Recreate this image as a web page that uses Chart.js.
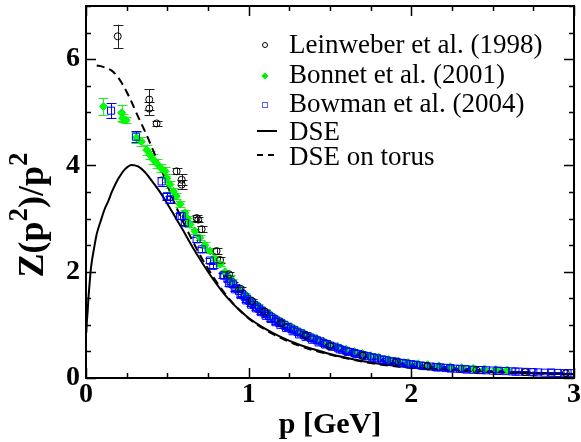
<!DOCTYPE html>
<html><head><meta charset="utf-8">
<script src="https://cdn.jsdelivr.net/npm/chart.js@4.4.0/dist/chart.umd.min.js"></script>
<style>html,body{margin:0;padding:0;background:#fff}#wrap{width:581px;height:442px;position:relative}</style>
</head><body><div id="wrap"><canvas id="c"></canvas></div>
<script>
// ---- data ----
const xTicks = [0, 1, 2, 3];
const yTicks = [0, 2, 4, 6];

const leinP   = [0.195, 0.389, 0.389, 0.434, 0.557, 0.588, 0.588, 0.680, 0.690, 0.711, 0.803, 0.824, 0.880, 0.950, 1.020, 1.100, 1.200, 1.350, 1.500, 1.700, 1.900, 2.100, 2.400, 2.700, 2.950];
const leinZ   = [6.43, 5.24, 5.07, 4.79, 3.89, 3.73, 3.64, 3.01, 2.98, 2.80, 2.39, 2.22, 1.95, 1.68, 1.45, 1.25, 1.03, 0.80, 0.60, 0.42, 0.29, 0.22, 0.15, 0.11, 0.09];
const leinErr = [0.22, 0.19, 0.12, 0.05, 0.06, 0.10, 0.08, 0.06, 0.05, 0.06, 0.05, 0.06, 0.04, 0.04, 0.03, 0.03, 0.03, 0.02, 0.02, 0.02, 0.02, 0.01, 0.01, 0.01, 0.01];

const bonP   = [0.107, 0.219, 0.225, 0.246, 0.310, 0.340, 0.373, 0.393, 0.410, 0.434, 0.460, 0.486, 0.496, 0.516, 0.537, 0.555, 0.578, 0.608, 0.625, 0.639, 0.670, 0.700, 0.730, 0.762, 0.790, 0.824, 0.855, 0.885,
                0.900, 0.940, 0.980, 1.020, 1.060, 1.100, 1.140, 1.180, 1.220, 1.260, 1.300, 1.340, 1.380, 1.420, 1.460, 1.500, 1.550, 1.600, 1.650, 1.700, 1.750, 1.800, 1.860, 1.920, 1.980, 2.040, 2.100, 2.170, 2.240, 2.310, 2.380, 2.450, 2.520, 2.590];
const bonZ   = [5.11, 4.99, 4.89, 4.85, 4.52, 4.45, 4.29, 4.20, 4.12, 4.04, 3.95, 3.89, 3.76, 3.64, 3.51, 3.42, 3.27, 3.11, 3.00, 2.89, 2.76, 2.64, 2.50, 2.39, 2.26, 2.14, 2.00, 1.89,
                1.82, 1.69, 1.57, 1.46, 1.36, 1.26, 1.18, 1.10, 1.03, 0.97, 0.90, 0.85, 0.79, 0.74, 0.69, 0.64, 0.59, 0.54, 0.50, 0.46, 0.42, 0.39, 0.35, 0.32, 0.29, 0.27, 0.25, 0.23, 0.21, 0.195, 0.18, 0.17, 0.16, 0.15];
const bonErr = [0.16, 0.15, 0.08, 0.06, 0.10, 0.08, 0.10, 0.08, 0.10, 0.08, 0.08, 0.08, 0.07, 0.07, 0.07, 0.06, 0.06, 0.06, 0.05, 0.05, 0.05, 0.05, 0.05, 0.04, 0.04, 0.04, 0.04, 0.04,
                0.04, 0.04, 0.03, 0.03, 0.03, 0.03, 0.03, 0.03, 0.03, 0.02, 0.02, 0.02, 0.02, 0.02, 0.02, 0.02, 0.02, 0.02, 0.02, 0.02, 0.02, 0.02, 0.02, 0.02, 0.02, 0.02, 0.02, 0.02, 0.02, 0.02, 0.02, 0.02, 0.02, 0.02];

const bowP   = [0.154, 0.307, 0.465, 0.496, 0.516, 0.578, 0.588, 0.608, 0.680, 0.711, 0.762, 0.782, 0.844,
                0.850, 0.870, 0.890, 0.905, 0.925, 0.940, 0.960, 0.975, 0.990, 1.005, 1.020, 1.035, 1.050, 1.065, 1.080, 1.095, 1.110, 1.125, 1.140, 1.155, 1.170, 1.185, 1.200, 1.220, 1.240, 1.260, 1.280, 1.300, 1.320, 1.340, 1.360, 1.380, 1.400, 1.420, 1.440, 1.460, 1.480, 1.500, 1.525, 1.550, 1.575, 1.600, 1.625, 1.650, 1.675, 1.700, 1.730, 1.760, 1.790, 1.820, 1.850, 1.880, 1.910, 1.940, 1.970, 2.000, 2.030, 2.060, 2.090, 2.120, 2.150, 2.180, 2.210, 2.240, 2.270, 2.300, 2.340, 2.380, 2.420, 2.460, 2.500, 2.540, 2.580, 2.620, 2.660, 2.700, 2.740, 2.780, 2.820, 2.860, 2.900, 2.940, 2.980,
                0.880, 0.915, 0.950, 0.985, 1.015, 1.045, 1.075, 1.105, 1.135, 1.165, 1.195, 1.230, 1.270, 1.310, 1.350, 1.390, 1.430, 1.470, 1.510, 1.560, 1.610, 1.660, 1.710, 1.770, 1.830, 1.890, 1.950, 2.010, 2.080, 2.160, 2.240, 2.330, 2.430, 2.530, 2.640, 2.750, 2.860, 2.960];
const bowZ   = [5.03, 4.54, 3.70, 3.42, 3.36, 3.05, 3.05, 2.92, 2.61, 2.42, 2.21, 2.11, 1.93,
                1.93, 1.86, 1.80, 1.76, 1.69, 1.64, 1.58, 1.53, 1.49, 1.45, 1.42, 1.37, 1.34, 1.30, 1.27, 1.23, 1.20, 1.17, 1.14, 1.11, 1.08, 1.06, 1.03, 1.00, 0.96, 0.93, 0.90, 0.87, 0.84, 0.81, 0.79, 0.76, 0.74, 0.71, 0.69, 0.66, 0.64, 0.61, 0.59, 0.56, 0.53, 0.51, 0.49, 0.47, 0.45, 0.43, 0.41, 0.39, 0.37, 0.35, 0.33, 0.315, 0.30, 0.285, 0.27, 0.26, 0.245, 0.235, 0.225, 0.215, 0.205, 0.20, 0.19, 0.185, 0.175, 0.17, 0.16, 0.155, 0.15, 0.145, 0.14, 0.135, 0.13, 0.125, 0.12, 0.115, 0.11, 0.105, 0.10, 0.10, 0.095, 0.09, 0.09,
                1.78, 1.67, 1.56, 1.46, 1.38, 1.31, 1.24, 1.17, 1.11, 1.05, 1.00, 0.94, 0.88, 0.82, 0.77, 0.72, 0.67, 0.63, 0.59, 0.54, 0.49, 0.455, 0.42, 0.38, 0.34, 0.31, 0.28, 0.25, 0.225, 0.20, 0.18, 0.165, 0.15, 0.135, 0.12, 0.11, 0.10, 0.09];
const bowErr = [0.14, 0.10, 0.08, 0.07, 0.06, 0.06, 0.05, 0.05, 0.05, 0.05, 0.05, 0.04, 0.04,
                0.04, 0.04, 0.04, 0.04, 0.04, 0.03, 0.03, 0.03, 0.03, 0.03, 0.03, 0.03, 0.03, 0.03, 0.03, 0.03, 0.03, 0.03, 0.03, 0.03, 0.03, 0.03, 0.03, 0.02, 0.02, 0.02, 0.02, 0.02, 0.02, 0.02, 0.02, 0.02, 0.02, 0.02, 0.02, 0.02, 0.02, 0.02, 0.02, 0.02, 0.02, 0.02, 0.02, 0.02, 0.02, 0.02, 0.02, 0.02, 0.02, 0.02, 0.02, 0.02, 0.02, 0.02, 0.02, 0.02, 0.02, 0.02, 0.02, 0.02, 0.02, 0.02, 0.02, 0.02, 0.02, 0.02, 0.02, 0.01, 0.01, 0.01, 0.01, 0.01, 0.01, 0.01, 0.01, 0.01, 0.01, 0.01, 0.01, 0.01, 0.01, 0.01, 0.01,
                0.04, 0.04, 0.03, 0.03, 0.03, 0.03, 0.03, 0.03, 0.03, 0.03, 0.03, 0.02, 0.02, 0.02, 0.02, 0.02, 0.02, 0.02, 0.02, 0.02, 0.02, 0.02, 0.02, 0.02, 0.02, 0.02, 0.02, 0.02, 0.02, 0.02, 0.02, 0.01, 0.01, 0.01, 0.01, 0.01, 0.01, 0.01];

const dseP = [0.002, 0.005, 0.010, 0.014, 0.020, 0.031, 0.050, 0.066, 0.090, 0.115, 0.137, 0.160, 0.200, 0.240, 0.280, 0.320, 0.360, 0.400, 0.450, 0.500, 0.550, 0.600, 0.650, 0.700, 0.750, 0.800, 0.850, 0.900, 0.950, 1.000, 1.100, 1.200, 1.300, 1.400, 1.500, 1.600, 1.750, 2.000, 2.250, 2.500, 2.750, 3.000];
const dseZ = [0.85, 1.05, 1.25, 1.46, 1.70, 2.08, 2.45, 2.71, 2.95, 3.18, 3.33, 3.51, 3.76, 3.93, 4.01, 3.98, 3.88, 3.73, 3.52, 3.28, 3.02, 2.76, 2.49, 2.24, 2.00, 1.78, 1.58, 1.41, 1.26, 1.13, 0.93, 0.77, 0.64, 0.54, 0.45, 0.38, 0.29, 0.20, 0.15, 0.115, 0.09, 0.07];

const torP = [0.066, 0.100, 0.168, 0.220, 0.270, 0.320, 0.373, 0.424, 0.475, 0.540, 0.600, 0.700, 0.800, 0.900, 1.000, 1.100, 1.200, 1.300, 1.400, 1.500, 1.600, 1.750, 2.000, 2.250, 2.500, 2.750, 3.000];
const torZ = [5.88, 5.86, 5.76, 5.55, 5.26, 4.92, 4.57, 4.20, 3.83, 3.32, 2.92, 2.32, 1.82, 1.42, 1.12, 0.91, 0.75, 0.62, 0.52, 0.44, 0.37, 0.28, 0.19, 0.145, 0.11, 0.085, 0.065];

const legendLabels = ['Leinweber et al. (1998)', 'Bonnet et al. (2001)', 'Bowman et al. (2004)', 'DSE', 'DSE on torus'];

const pts = (xs, ys) => xs.map((x, i) => ({x, y: ys[i]}));

const errorBarPlugin = {
  id: 'errorBars',
  beforeDatasetsDraw(chart) {
    const {ctx, chartArea: a, scales: {x, y}} = chart;
    ctx.save();
    ctx.beginPath(); ctx.rect(a.left, a.top, a.right - a.left, a.bottom - a.top); ctx.clip();
    const order = [2, 1, 0];
    order.forEach(k => {
      const ds = chart.data.datasets[k];
      if (!ds.errorBars) return;
      ctx.strokeStyle = ds.errorColor; ctx.lineWidth = 1;
      ds.data.forEach((d, i) => {
        const e = ds.errorBars[i];
        const px = Math.round(x.getPixelForValue(d.x)) + 0.5;
        const y1 = y.getPixelForValue(d.y + e), y2 = y.getPixelForValue(d.y - e);
        ctx.beginPath();
        ctx.moveTo(px, y1); ctx.lineTo(px, y2);
        ctx.moveTo(px - 5, Math.round(y1) + 0.5); ctx.lineTo(px + 5, Math.round(y1) + 0.5);
        ctx.moveTo(px - 5, Math.round(y2) + 0.5); ctx.lineTo(px + 5, Math.round(y2) + 0.5);
        ctx.stroke();
      });
    });
    ctx.restore();
  }
};

const framePlugin = {
  id: 'frame',
  afterDraw(chart) {
    const {ctx, chartArea: a, scales: {x, y}} = chart;
    ctx.save();
    ctx.strokeStyle = '#000'; ctx.lineWidth = 2;
    ctx.strokeRect(a.left, a.top, a.right - a.left, a.bottom - a.top);
    ctx.lineWidth = 1.5;
    ctx.beginPath();
    for (let v = 0; v <= 3.0001; v += 0.25) {
      const major = Math.abs(v - Math.round(v)) < 1e-6;
      const L = major ? 10 : 5;
      const px = Math.round(x.getPixelForValue(v)) + 0.5;
      ctx.moveTo(px, a.bottom); ctx.lineTo(px, a.bottom - L);
      ctx.moveTo(px, a.top); ctx.lineTo(px, a.top + L);
    }
    for (let v = 0; v <= 7.0001; v += 0.5) {
      const major = Math.abs(v / 2 - Math.round(v / 2)) < 1e-6;
      const L = major ? 10 : 5;
      const py = Math.round(y.getPixelForValue(v)) + 0.5;
      ctx.moveTo(a.left, py); ctx.lineTo(a.left + L, py);
      ctx.moveTo(a.right, py); ctx.lineTo(a.right - L, py);
    }
    ctx.stroke();

    // y axis title with superscripts
    ctx.fillStyle = '#000';
    ctx.translate(43, 215);
    ctx.rotate(-Math.PI / 2);
    ctx.textBaseline = 'alphabetic';
    ctx.textAlign = 'left';
    const big = 'bold 36px "Liberation Serif"', small = 'bold 27px "Liberation Serif"';
    const parts = [['Z(p', big, 0], ['2', small, -16], [')/p', big, 0], ['2', small, -16]];
    let total = 0;
    parts.forEach(([t, f]) => { ctx.font = f; total += ctx.measureText(t).width; });
    let cx = -total / 2;
    parts.forEach(([t, f, dy]) => { ctx.font = f; ctx.fillText(t, cx, dy); cx += ctx.measureText(t).width; });
    ctx.restore();

    // legend
    ctx.save();
    ctx.font = '27px "Liberation Serif"';
    ctx.fillStyle = '#000';
    ctx.textBaseline = 'alphabetic';
    const rows = [45, 76, 105, 131, 155];
    const bases = [53, 83, 112, 140, 165];
    legendLabels.forEach((t, i) => ctx.fillText(t, 289, bases[i]));
    ctx.lineWidth = 1;
    ctx.strokeStyle = '#000';
    ctx.beginPath(); ctx.arc(265, rows[0], 2.5, 0, Math.PI * 2); ctx.stroke();
    ctx.fillStyle = '#00ee00';
    ctx.beginPath(); ctx.moveTo(265, rows[1] - 3.5); ctx.lineTo(268.5, rows[1]); ctx.lineTo(265, rows[1] + 3.5); ctx.lineTo(261.5, rows[1]); ctx.closePath(); ctx.fill();
    ctx.strokeStyle = '#6060ff';
    ctx.strokeRect(262.5, rows[2] - 2.5, 5, 5);
    ctx.strokeStyle = '#000'; ctx.lineWidth = 2;
    ctx.beginPath(); ctx.moveTo(257, rows[3]); ctx.lineTo(277, rows[3]); ctx.stroke();
    ctx.setLineDash([6, 5]);
    ctx.beginPath(); ctx.moveTo(257, rows[4]); ctx.lineTo(277, rows[4]); ctx.stroke();
    ctx.restore();
  }
};

const tickFont = {family: '"Liberation Serif"', size: 28, weight: 'bold'};

new Chart(document.getElementById('c'), {
  type: 'scatter',
  data: {
    datasets: [
      {label: legendLabels[0], data: pts(leinP, leinZ), errorBars: leinErr, errorColor: '#222',
       pointStyle: 'circle', pointRadius: 3.5, backgroundColor: 'rgba(0,0,0,0)', borderColor: '#000', borderWidth: 1, order: 1},
      {label: legendLabels[2], data: pts(bowP, bowZ), errorBars: bowErr, errorColor: '#0000ff',
       pointStyle: 'rect', pointRadius: 5, backgroundColor: 'rgba(0,0,0,0)', borderColor: '#0000ff', borderWidth: 1, order: 2},
      {label: legendLabels[1], data: pts(bonP, bonZ), errorBars: bonErr, errorColor: '#22ee22',
       pointStyle: 'rectRot', pointRadius: 4, backgroundColor: '#00ff00', borderColor: '#00ee00', borderWidth: 1, order: 3},
      {label: legendLabels[3], data: pts(dseP, dseZ), type: 'line', showLine: true, pointRadius: 0,
       borderColor: '#000', borderWidth: 2, cubicInterpolationMode: 'monotone', fill: false, order: 4},
      {label: legendLabels[4], data: pts(torP, torZ), type: 'line', showLine: true, pointRadius: 0,
       borderColor: '#000', borderWidth: 2, borderDash: [8, 5], cubicInterpolationMode: 'monotone', fill: false, order: 5}
    ]
  },
  options: {
    responsive: true, maintainAspectRatio: false, animation: false,
    layout: {padding: {top: 3, right: 7, left: 0, bottom: 0}},
    plugins: {legend: {display: false}, tooltip: {enabled: false}},
    scales: {
      x: {
        type: 'linear', min: 0, max: 3,
        afterFit(s) { s.height = 64; s.paddingLeft = 0; s.paddingRight = 0; },
        afterBuildTicks(s) { s.ticks = xTicks.map(v => ({value: v})); },
        grid: {display: false, drawTicks: false}, border: {display: false},
        ticks: {font: tickFont, color: '#000', padding: 0, maxRotation: 0},
        title: {display: true, text: 'p [GeV]', color: '#000',
                font: {family: '"Liberation Serif"', size: 30, weight: 'bold', lineHeight: 1.1},
                padding: {top: 0, bottom: 0}}
      },
      y: {
        type: 'linear', min: 0, max: 7,
        afterFit(s) { s.width = 86; s.paddingTop = 0; s.paddingBottom = 0; },
        afterBuildTicks(s) { s.ticks = yTicks.map(v => ({value: v})); },
        grid: {display: false, drawTicks: false}, border: {display: false},
        ticks: {font: tickFont, color: '#000', padding: 6}
      }
    }
  },
  plugins: [errorBarPlugin, framePlugin]
});
</script>
</body></html>
